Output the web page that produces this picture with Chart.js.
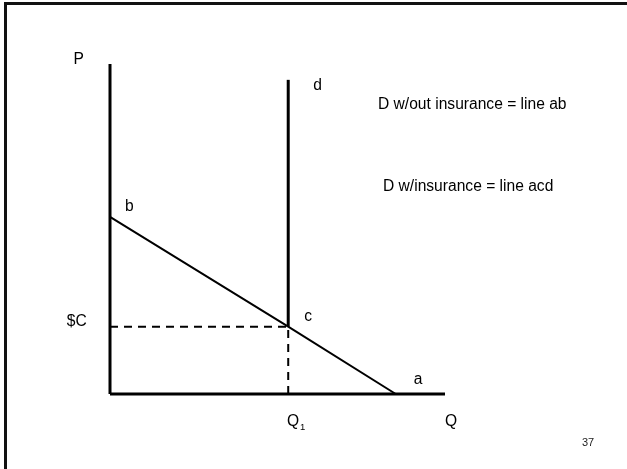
<!DOCTYPE html>
<html>
<head>
<meta charset="utf-8">
<script src="https://cdn.jsdelivr.net/npm/chart.js@4"></script>
<style>
  html, body { margin: 0; padding: 0; background: #fff; }
  #wrap { position: relative; width: 627px; height: 469px; overflow: hidden; }
  #frame { position: absolute; left: 4px; top: 2px; right: -10px; bottom: -10px;
           border-left: 3px solid #111; border-top: 3px solid #111; }
  #c { position: absolute; left: 0; top: 0; }
</style>
</head>
<body>
<div id="wrap">
  <div id="frame"></div>
  <canvas id="c" width="627" height="469"></canvas>
</div>
<script>
// ---- data ----
const axisNames = ['P', 'Q'];
const axisMaxP = 10;          // top of the price axis
const axisMaxQ = 10;          // end of the quantity axis
const pointNames = ['b', 'c', 'a', 'd'];
const pointQ = [0, 5.32, 8.53, 5.32];
const pointP = [5.37, 2.04, 0, 9.52];
const priceTick = '$C';
const quantityTick = ['Q', '1'];   // Q with subscript 1
const notes = ['D w/out insurance = line ab', 'D w/insurance = line acd'];
const pageNumber = '37';

// ---- build datasets from the arrays ----
const B = {x: pointQ[0], y: pointP[0]};
const C = {x: pointQ[1], y: pointP[1]};
const A = {x: pointQ[2], y: pointP[2]};
const D = {x: pointQ[3], y: pointP[3]};

const base = {showLine: true, pointRadius: 0, borderColor: '#000', fill: false, tension: 0, clip: false};
const datasets = [
  Object.assign({}, base, {label: 'P axis', data: [{x: 0, y: 0}, {x: 0, y: axisMaxP}], borderWidth: 3, borderCapStyle: 'butt'}),
  Object.assign({}, base, {label: 'Q axis', data: [{x: 0, y: 0}, {x: axisMaxQ, y: 0}], borderWidth: 3, borderCapStyle: 'butt'}),
  Object.assign({}, base, {label: 'line ab', data: [B, C, A], borderWidth: 2}),
  Object.assign({}, base, {label: 'line cd', data: [C, D], borderWidth: 3, borderCapStyle: 'butt'}),
  Object.assign({}, base, {label: 'price guide', data: [{x: 0, y: C.y}, C], borderWidth: 2, borderDash: [8, 6]}),
  Object.assign({}, base, {label: 'quantity guide', data: [{x: C.x, y: 0}, C], borderWidth: 2, borderDash: [8, 6]})
];

const FONT = '"Liberation Sans", Arial, sans-serif';

const labelPlugin = {
  id: 'labels',
  afterDatasetsDraw(chart) {
    const ctx = chart.ctx;
    const xs = chart.scales.x, ys = chart.scales.y;
    const px = v => xs.getPixelForValue(v);
    const py = v => ys.getPixelForValue(v);
    ctx.save();
    ctx.fillStyle = '#000';
    ctx.textBaseline = 'alphabetic';
    ctx.textAlign = 'left';
    ctx.font = '15.6px ' + FONT;
    // axis names
    ctx.fillText(axisNames[0], px(0) - 36.5, py(axisMaxP));
    ctx.fillText(axisNames[1], px(axisMaxQ), py(0) + 32);
    // point names
    const offs = [[15, -5.5], [16, -6], [18, -10], [25, 10]];
    pointNames.forEach((n, i) => {
      ctx.fillText(n, px(pointQ[i]) + offs[i][0], py(pointP[i]) + offs[i][1]);
    });
    // price tick
    ctx.textAlign = 'right';
    ctx.fillText(priceTick, px(0) - 23.3, py(C.y) - 0.5);
    // quantity tick with subscript
    ctx.textAlign = 'left';
    const qx = px(C.x) - 1.3, qy = py(0) + 32;
    ctx.fillText(quantityTick[0], qx, qy);
    const w = ctx.measureText(quantityTick[0]).width;
    ctx.font = '9.5px ' + FONT;
    ctx.fillText(quantityTick[1], qx + w + 1, qy + 4);
    // notes
    ctx.font = '15.6px ' + FONT;
    ctx.fillText(notes[0], 378, 109);
    ctx.fillText(notes[1], 383, 190.5);
    // page number
    ctx.font = '11px ' + FONT;
    ctx.fillStyle = '#222';
    ctx.fillText(pageNumber, 582, 446);
    ctx.restore();
  }
};

new Chart(document.getElementById('c'), {
  type: 'scatter',
  data: {datasets},
  options: {
    responsive: false,
    animation: false,
    events: [],
    layout: {padding: {left: 110, right: 182, top: 64, bottom: 75}},
    plugins: {legend: {display: false}, tooltip: {enabled: false}},
    scales: {
      x: {type: 'linear', min: 0, max: axisMaxQ, display: false},
      y: {type: 'linear', min: 0, max: axisMaxP, display: false}
    }
  },
  plugins: [labelPlugin]
});
</script>
</body>
</html>
